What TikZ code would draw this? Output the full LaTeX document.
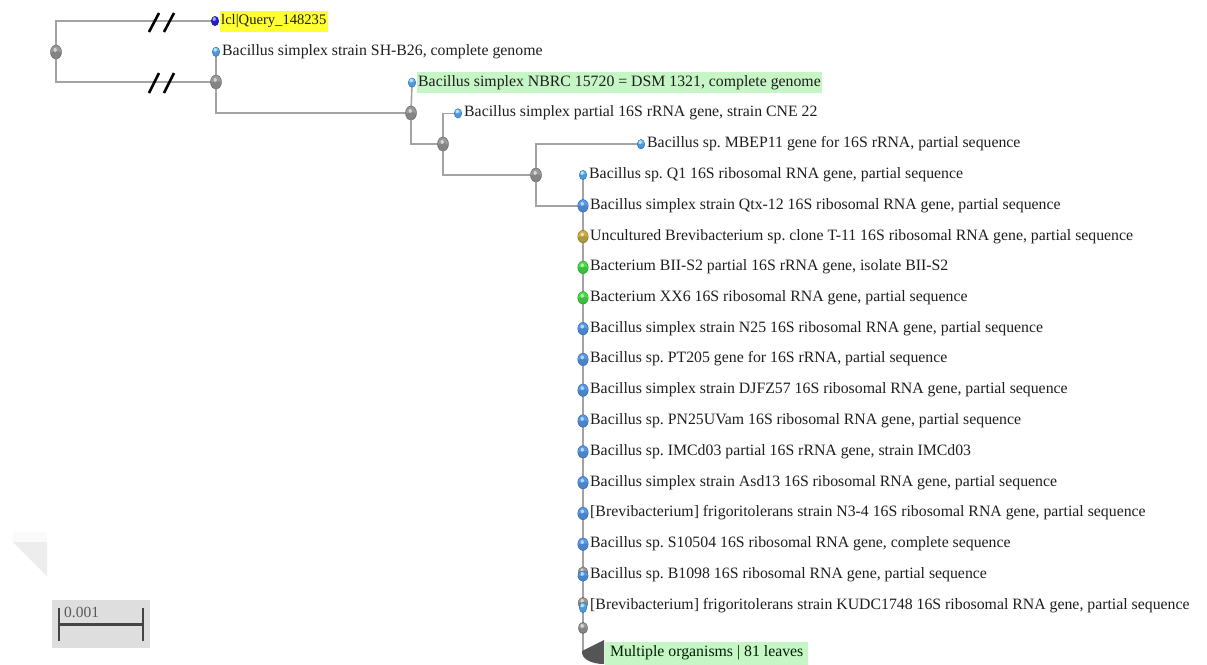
\documentclass[tikz,border=0pt]{standalone}
\usepackage{fontspec}
\setmainfont{Liberation Serif}
\usetikzlibrary{shapes.geometric}
\definecolor{branch}{HTML}{A3A3A3}
\definecolor{txt}{HTML}{1E1E1E}
\definecolor{hlyellow}{HTML}{FFFF33}
\definecolor{hlgreen}{HTML}{C6F5C6}
\definecolor{lightblue}{HTML}{58B2FF}
\definecolor{midblue}{HTML}{559AEC}
\definecolor{qblue}{HTML}{2828D8}
\definecolor{goldc}{HTML}{CFAE44}
\definecolor{greenc}{HTML}{44E044}
\definecolor{nodegray}{HTML}{999999}
\definecolor{trigray}{HTML}{555555}
\definecolor{barc}{HTML}{444444}
\pgfdeclarelayer{bg}
\pgfsetlayers{bg,main}
\tikzset{
  br/.style={draw=branch, line width=1.6pt},
  ball/.style={shape=ellipse, inner sep=0pt, fill=#1, draw=#1!60!black, line width=0.4pt,
     path picture={
       \fill[#1!55!black, opacity=0.3] ([yshift=-2.6pt]path picture bounding box.center) ellipse [x radius=6pt, y radius=3.5pt];
       \fill[white, opacity=0.6] ([xshift=-0.8pt, yshift=2pt]path picture bounding box.center) ellipse [x radius=1.7pt, y radius=2pt];
     }},
  smalldot/.style={ball=lightblue, minimum width=7.5pt, minimum height=9.5pt},
  qdot/.style={ball=qblue, minimum width=7.5pt, minimum height=9.5pt},
  bigdot/.style={ball=midblue, minimum width=10.5pt, minimum height=12.5pt},
  golddot/.style={ball=goldc, minimum width=10.5pt, minimum height=12.5pt},
  greendot/.style={ball=greenc, minimum width=10.5pt, minimum height=12.5pt},
  inode/.style={ball=nodegray, minimum width=11pt, minimum height=14pt},
  lab/.style={anchor=west, text=txt, inner xsep=1.5pt, inner ysep=3pt,
     font=\fontsize{15.8}{18}\selectfont, text height=11pt, text depth=4pt},
  slash/.style={draw=black, line width=2.6pt},
}
\begin{document}
\frenchspacing
\begin{tikzpicture}[x=1pt,y=-1pt]
\useasboundingbox (0,0) rectangle (1207,664);
% faint corner artifact
\fill[black!2] (13,532) rectangle (47,542);
\fill[black!7] (13,542) -- (47,542) -- (47,576) -- cycle;

% internal nodes
\node[inode] (R) at (56,52) {};
\node[inode] (N1) at (216,82) {};
\node[inode] (N2) at (411,113) {};
\node[inode] (N3) at (443,144) {};
\node[inode] (N4) at (536,175) {};

% leaves
\node[qdot] (dQ) at (215,21) {};
\node[smalldot] (dSH) at (216,51.8) {};
\node[smalldot] (dNB) at (412,82.6) {};
\node[smalldot] (dCN) at (458,113.4) {};
\node[smalldot] (dMB) at (641,144.2) {};
\node[smalldot] (d5) at (583,175) {};
\node[bigdot] (d6) at (583,205.8) {};
\node[golddot] (d7) at (583,236.6) {};
\node[greendot] (d8) at (583,267.4) {};
\node[greendot] (d9) at (583,297.8) {};
\node[bigdot] (d10) at (583,328.6) {};
\node[bigdot] (d11) at (583,359.4) {};
\node[bigdot] (d12) at (583,390.2) {};
\node[bigdot] (d13) at (583,421) {};
\node[bigdot] (d14) at (583,451.8) {};
\node[bigdot] (d15) at (583,482.6) {};
\node[bigdot] (d16) at (583,513.4) {};
\node[bigdot] (d17) at (583,544.2) {};
% mixed gray/blue dots
\node[ball=nodegray, minimum width=9.5pt, minimum height=11.5pt] (d18g) at (583,572.5) {};
\node[bigdot, minimum height=10.5pt] (d18) at (583,576) {};
\node[ball=nodegray, minimum width=9.5pt, minimum height=11.5pt] (d19g) at (583,603) {};
\node[smalldot, minimum height=10.5pt] (d19) at (583,607.5) {};
\node[ball=nodegray, minimum width=9pt, minimum height=11.5pt] (G) at (583,628) {};
\coordinate (T) at (583,652);

% branches
\begin{pgfonlayer}{bg}
\draw[br] (R.center) |- (dQ.center);
\draw[br] (R.center) |- (N1.center);
\draw[br] (N1.center) -- (dSH.center);
\draw[br] (N1.center) |- (N2.center);
\draw[br] (N2.center) -- (dNB.center);
\draw[br] (N2.center) |- (N3.center);
\draw[br] (N3.center) |- (dCN.center);
\draw[br] (N3.center) |- (N4.center);
\draw[br] (N4.center) |- (dMB.center);
\draw[br] (N4.center) |- (d6.center);
\draw[br] (d5.center) -- (T);
\end{pgfonlayer}

% break marks
\draw[slash] (149,32) -- (159,13);
\draw[slash] (164,32) -- (174,13);
\draw[slash] (149,93) -- (159,73);
\draw[slash] (164,93) -- (174,73);

% collapsed clade
\fill[trigray] (604,640) -- (582,651) .. controls (581,658) and (590,664) .. (604,664) -- cycle;

% labels
\node[lab, fill=hlyellow, font=\fontsize{14.6}{18}\selectfont] (tQ) at (219.5,21) {lcl|Query\_148235};
\node[lab] (tSH) at (220.5,51.8) {Bacillus simplex strain SH-B26, complete genome};
\node[lab, fill=hlgreen] (tNB) at (416.5,82.6) {Bacillus simplex NBRC 15720 = DSM 1321, complete genome};
\node[lab] (tCN) at (462.5,113.4) {Bacillus simplex partial 16S rRNA gene, strain CNE 22};
\node[lab] (tMB) at (645.5,144.2) {Bacillus sp. MBEP11 gene for 16S rRNA, partial sequence};
\node[lab] (t5) at (587.5,175) {Bacillus sp. Q1 16S ribosomal RNA gene, partial sequence};
\node[lab] (t6) at (588.5,205.8) {Bacillus simplex strain Qtx-12 16S ribosomal RNA gene, partial sequence};
\node[lab] (t7) at (588.5,236.6) {Uncultured Brevibacterium sp. clone T-11 16S ribosomal RNA gene, partial sequence};
\node[lab] (t8) at (588.5,267.4) {Bacterium BII-S2 partial 16S rRNA gene, isolate BII-S2};
\node[lab] (t9) at (588.5,297.8) {Bacterium XX6 16S ribosomal RNA gene, partial sequence};
\node[lab] (t10) at (588.5,328.6) {Bacillus simplex strain N25 16S ribosomal RNA gene, partial sequence};
\node[lab] (t11) at (588.5,359.4) {Bacillus sp. PT205 gene for 16S rRNA, partial sequence};
\node[lab] (t12) at (588.5,390.2) {Bacillus simplex strain DJFZ57 16S ribosomal RNA gene, partial sequence};
\node[lab] (t13) at (588.5,421) {Bacillus sp. PN25UVam 16S ribosomal RNA gene, partial sequence};
\node[lab] (t14) at (588.5,451.8) {Bacillus sp. IMCd03 partial 16S rRNA gene, strain IMCd03};
\node[lab] (t15) at (588.5,482.6) {Bacillus simplex strain Asd13 16S ribosomal RNA gene, partial sequence};
\node[lab] (t16) at (588.5,513.4) {[Brevibacterium] frigoritolerans strain N3-4 16S ribosomal RNA gene, partial sequence};
\node[lab] (t17) at (588.5,544.2) {Bacillus sp. S10504 16S ribosomal RNA gene, complete sequence};
\node[lab] (t18) at (588.5,575) {Bacillus sp. B1098 16S ribosomal RNA gene, partial sequence};
\node[lab] (t19) at (588.5,605.8) {[Brevibacterium] frigoritolerans strain KUDC1748 16S ribosomal RNA gene, partial sequence};
\node[lab, fill=hlgreen, text=black!80!green!60!black, minimum width=203pt, align=left, text depth=6pt] (tT) at (605,653.5) {Multiple organisms | 81 leaves};

% scale bar
\fill[black!13] (52,600) rectangle (150,648);
\draw[draw=barc, line width=2.8pt] (59,608) -- (59,641);
\draw[draw=barc, line width=2.8pt] (143,608) -- (143,641);
\draw[draw=barc, line width=2.8pt] (59,624.5) -- (143,624.5);
\node[anchor=west, text=black!65, inner sep=0pt, font=\fontsize{15.5}{16}\selectfont] (sc) at (64,612) {0.001};
\end{tikzpicture}
\end{document}
